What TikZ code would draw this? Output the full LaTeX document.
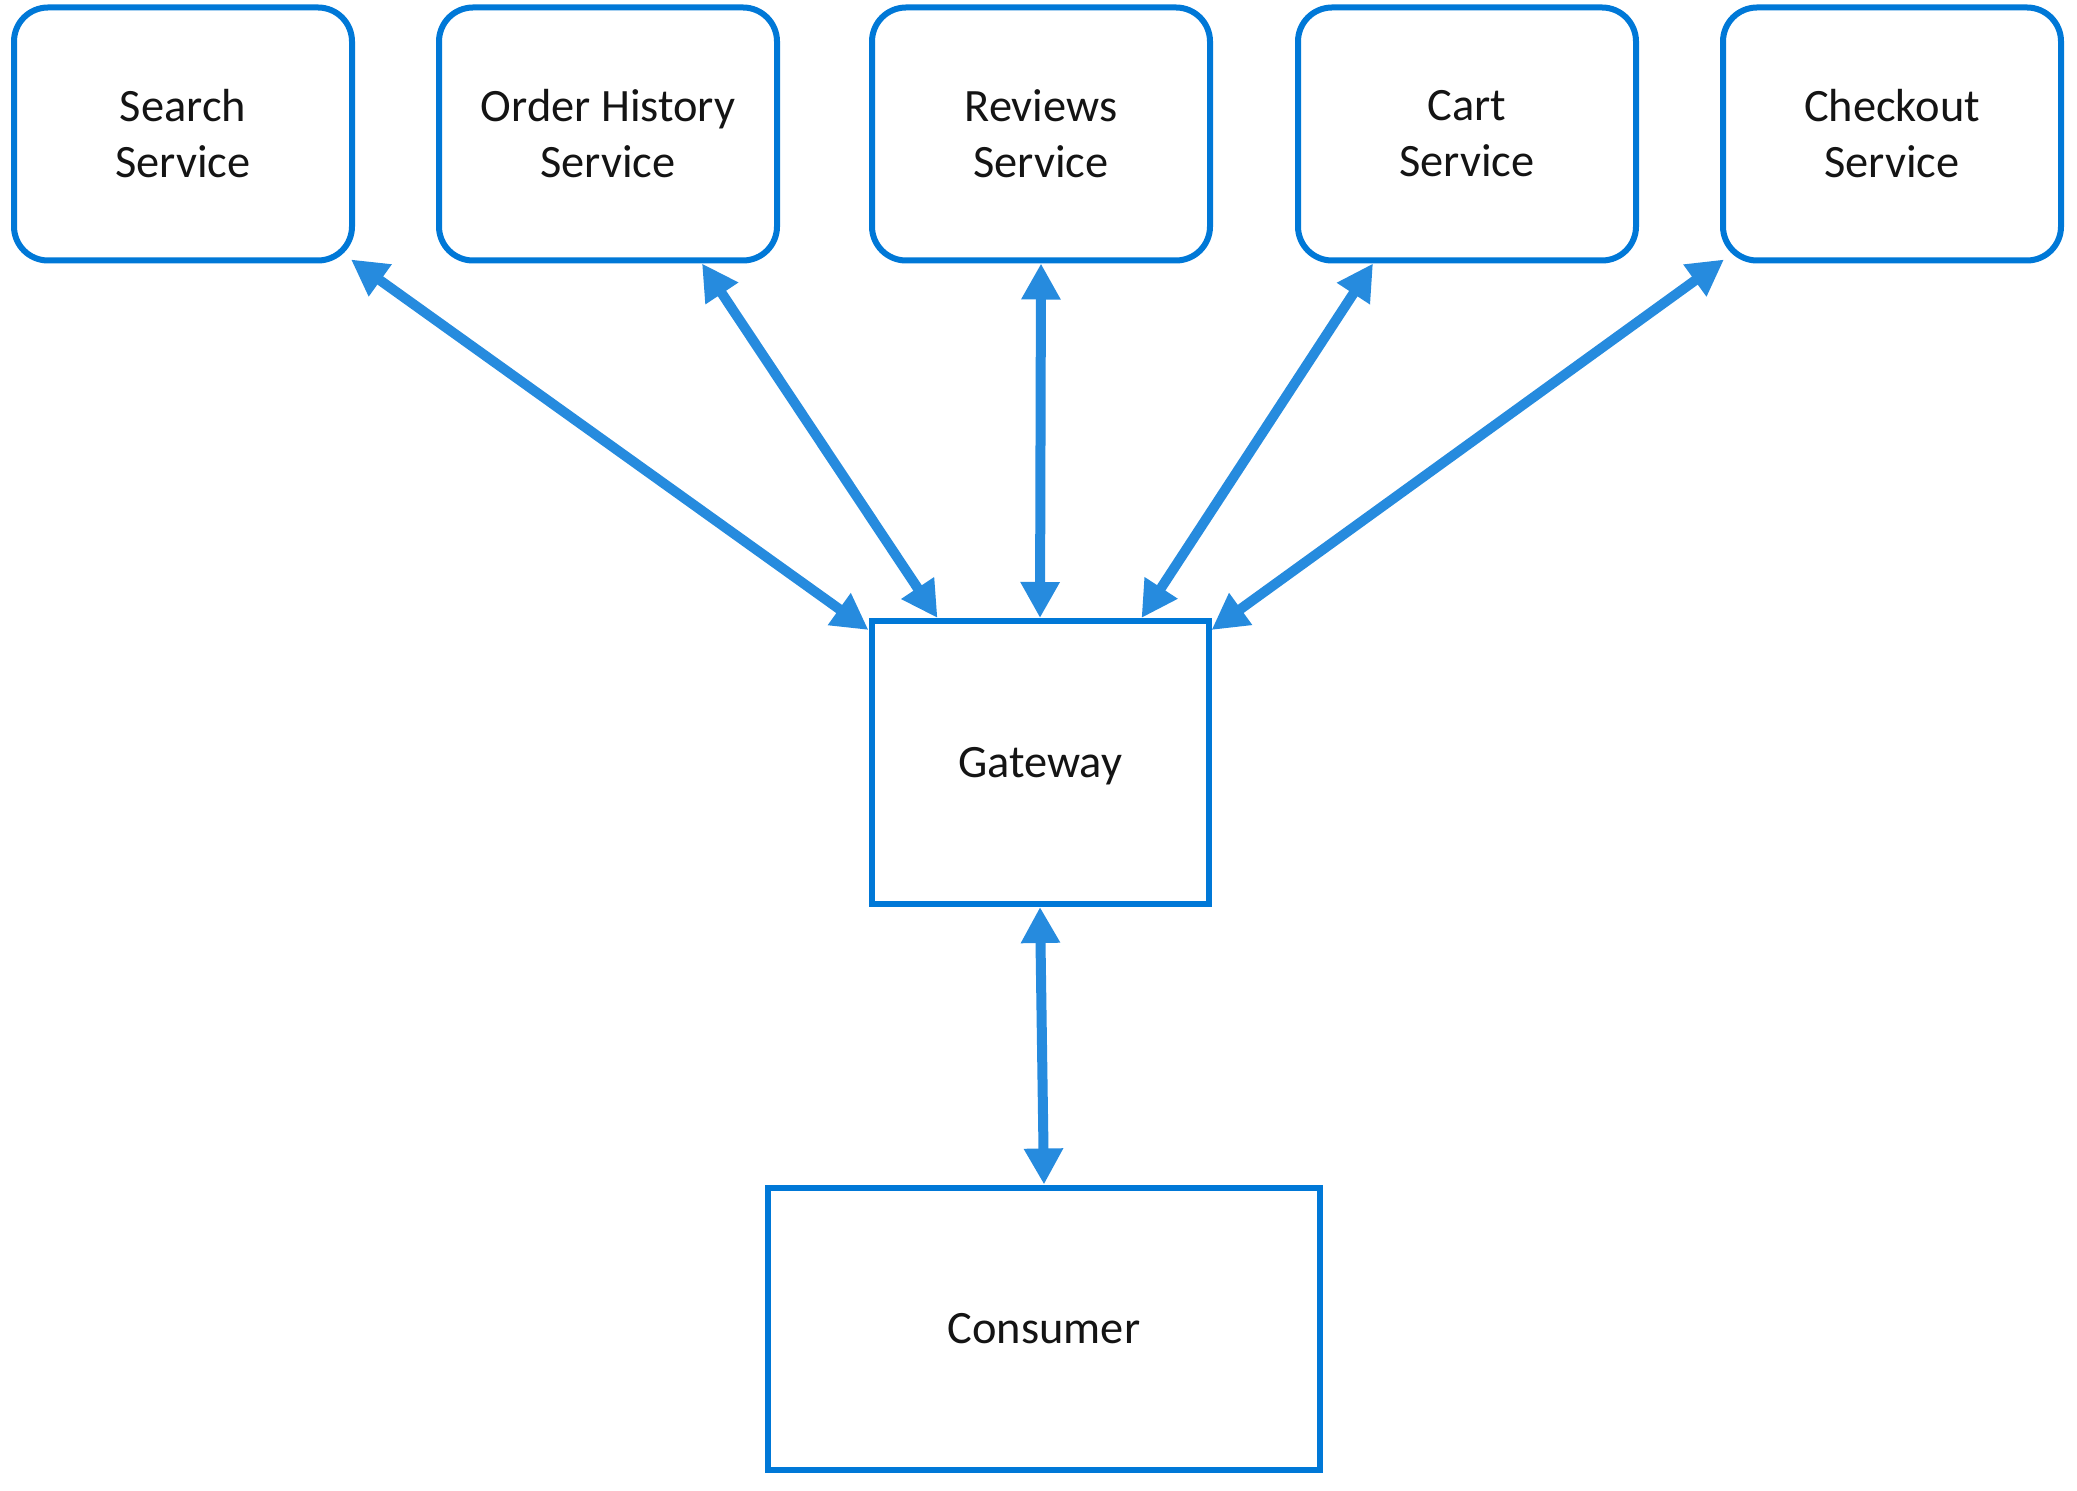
\documentclass[tikz,border=0pt]{standalone}
\usepackage{fontspec}
\setmainfont{Carlito}
\usetikzlibrary{arrows.meta}
\definecolor{boxblue}{RGB}{0,120,215}
\definecolor{arrblue}{RGB}{38,139,222}
\definecolor{txt}{RGB}{20,20,20}
\tikzset{
  svc/.style={draw=boxblue, line width=3pt, rounded corners=17pt, fill=white,
    minimum width=169pt, minimum height=126.5pt, align=center, text=txt,
    font=\fontsize{23.2}{28}\selectfont, inner sep=0pt},
  sqbox/.style={draw=boxblue, line width=3pt, fill=white, align=center, text=txt,
    font=\fontsize{23.2}{28}\selectfont, inner sep=0pt},
  arr/.style={draw=arrblue, line width=5pt, line cap=round,
    {Triangle[length=18pt,width=18.5pt]}-{Triangle[length=18pt,width=18.5pt]}}
}
\begin{document}
\begin{tikzpicture}[x=0.5pt,y=-0.5pt]
\useasboundingbox (0,0) rectangle (2077,1491);
\node[svc] (search) at (183,134) {Search\\Service};
\node[svc] (order) at (608,134) {Order History\\Service};
\node[svc] (reviews) at (1041,134) {Reviews\\Service};
\node[svc] (cart) at (1467,134) {Cart\\Service};
\node[svc] (checkout) at (1892,134) {Checkout\\Service};
\node[sqbox, minimum width=168.5pt, minimum height=141.5pt, text depth=0pt] (gateway) at (1040,762.5) {Gateway};
\node[sqbox, minimum width=276pt, minimum height=141pt] (consumer) at (1044,1328.5) {Consumer};
\draw[arr] ([xshift=-2pt,yshift=2pt]search.south east) -- ([yshift=-6pt]gateway.north west);
\draw[arr] ([xshift=-39pt]order.south east) -- ([xshift=34.5pt]gateway.north west);
\draw[arr] (reviews.south) -- (gateway.north);
\draw[arr] ([xshift=39pt]cart.south west) -- ([xshift=-35pt]gateway.north east);
\draw[arr] ([xshift=2pt,yshift=2pt]checkout.south west) -- ([yshift=-6pt]gateway.north east);
\draw[arr] (gateway.south) -- (consumer.north);
\end{tikzpicture}
\end{document}
